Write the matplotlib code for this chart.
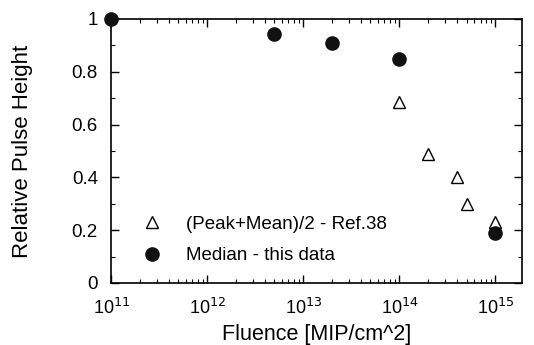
import numpy as np
import matplotlib.pyplot as plt
from matplotlib.ticker import LogLocator, MultipleLocator, NullFormatter

plt.rcParams['font.family'] = ['Liberation Sans', 'DejaVu Sans']

# (Peak+Mean)/2 - Ref.38
ref_fluence = [1e14, 2e14, 4e14, 5e14, 1e15]
ref_height = [0.687, 0.49, 0.40, 0.30, 0.23]

# Median - this data
med_fluence = [1e11, 5e12, 2e13, 1e14, 1e15]
med_height = [1.0, 0.942, 0.91, 0.85, 0.19]

y_ticks = [0, 0.2, 0.4, 0.6, 0.8, 1]
y_labels = ['0', '0.2', '0.4', '0.6', '0.8', '1']
x_ticks = [1e11, 1e12, 1e13, 1e14, 1e15]
x_labels = [r'10$^{11}$', r'10$^{12}$', r'10$^{13}$', r'10$^{14}$', r'10$^{15}$']

fig = plt.figure(figsize=(5.34, 3.45), dpi=100)
ax = fig.add_axes([0.208, 0.180, 0.770, 0.765])

ax.plot(ref_fluence, ref_height, linestyle='none', marker='^', markersize=8,
        markerfacecolor='white', markeredgecolor='black', markeredgewidth=1.0,
        label='(Peak+Mean)/2 - Ref.38', clip_on=False, zorder=3)
ax.plot(med_fluence, med_height, linestyle='none', marker='o', markersize=9.5,
        color='#111111', label='Median - this data', clip_on=False, zorder=4)

ax.set_xscale('log')
ax.set_xlim(1e11, 1.9e15)
ax.set_ylim(0, 1)
ax.set_xticks(x_ticks)
ax.set_xticklabels(x_labels)
ax.xaxis.set_minor_locator(LogLocator(base=10, subs=np.arange(2, 10), numticks=20))
ax.xaxis.set_minor_formatter(NullFormatter())
ax.set_yticks(y_ticks)
ax.set_yticklabels(y_labels)
ax.yaxis.set_minor_locator(MultipleLocator(0.1))

ax.tick_params(which='both', direction='in', top=True, right=True)
ax.tick_params(which='major', length=6, width=1)
ax.tick_params(which='minor', length=3, width=0.8)
ax.tick_params(axis='x', pad=11, labelsize=13)
ax.tick_params(axis='y', pad=9.5, labelsize=13.5)
for s in ax.spines.values():
    s.set_linewidth(1.2)

ax.set_xlabel('Fluence [MIP/cm^2]', fontsize=15.5)
ax.xaxis.set_label_coords(0.5, -0.155)
ax.set_ylabel('Relative Pulse Height', fontsize=16)
ax.yaxis.set_label_coords(-0.19, 0.5)

ax.legend(loc='lower left', bbox_to_anchor=(0.013, 0.007), frameon=False,
          fontsize=13.5, handletextpad=0.8, labelspacing=0.75)

fig.savefig('out.png', dpi=100)
